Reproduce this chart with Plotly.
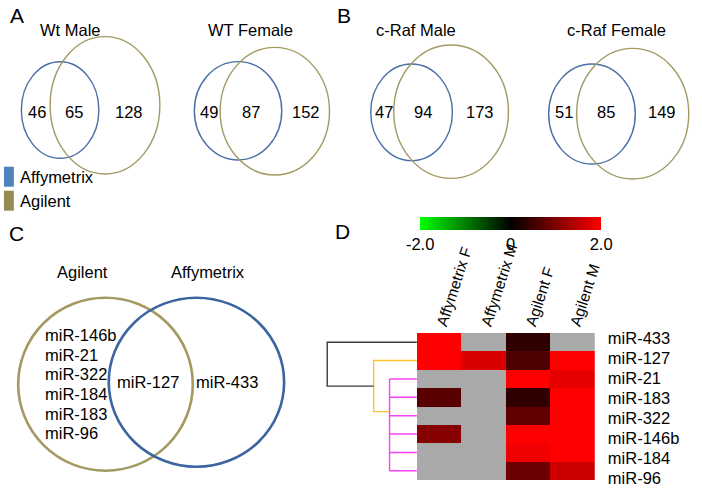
import plotly.graph_objects as go

W, H = 702, 488

# ---------------- DATA ----------------
# Panels A/B: Venn counts (Affymetrix only, overlap, Agilent only)
venn_titles = ["Wt Male", "WT Female", "c-Raf Male", "c-Raf Female"]
affy_only = [46, 49, 47, 51]
overlap = [65, 87, 94, 85]
agilent_only = [128, 152, 173, 149]

legend_labels = ["Affymetrix", "Agilent"]

# Panel C: miRNA membership
c_set_labels = ["Agilent", "Affymetrix"]
c_agilent_only = ["miR-146b", "miR-21", "miR-322", "miR-184", "miR-183", "miR-96"]
c_overlap = ["miR-127"]
c_affy_only = ["miR-433"]

# Panel D: heatmap (None = not detected, grey)
hm_columns = ["Affymetrix F", "Affymetrix M", "Agilent F", "Agilent M"]
hm_rows = ["miR-433", "miR-127", "miR-21", "miR-183", "miR-322", "miR-146b", "miR-184", "miR-96"]
hm_mir433 = [2.0, None, 0.38, None]
hm_mir127 = [2.0, 1.72, 0.62, 2.0]
hm_mir21 = [None, None, 2.0, 1.8]
hm_mir183 = [0.7, None, 0.38, 2.0]
hm_mir322 = [None, None, 0.75, 2.0]
hm_mir146b = [1.05, None, 2.0, 2.0]
hm_mir184 = [None, None, 1.88, 2.0]
hm_mir96 = [None, None, 0.85, 1.6]
hm_values = [hm_mir433, hm_mir127, hm_mir21, hm_mir183, hm_mir322, hm_mir146b, hm_mir184, hm_mir96]

cbar_tickvals = [-2, 0, 2]
cbar_ticktext = ["-2.0", "0", "2.0"]

# Dendrogram (row clustering): merge heights (relative) and attach row positions
dendro_leaf_group = [2, 3, 4, 5, 6, 7]      # comb-joined leaves
dendro_h_group = 0.305
dendro_group_attach = 3.78
dendro_h_mid = 0.482                        # joins row 1 with the group
dendro_h_root = 1.0                         # joins row 0 with the rest

# ---------------- STYLE / LAYOUT ----------------
FONT = "Liberation Sans, Arial, sans-serif"
FS = 16.5
BLUE = "#4a6ea6"
TAN = "#a39a62"
BLUE_SW = "#4f81bd"
TAN_SW = "#948a54"
GREY = "#a9a9a9"

# ellipse geometry per Venn panel in pixel units: (cx, cy, rx, ry)
venn_blue = [(60.8, 110, 39.2, 48.3), (240.8, 110.8, 44.2, 49.2),
             (416.3, 112.3, 41.3, 48.3), (598.8, 114, 43.8, 50)]
venn_tan = [(106.2, 105.3, 55.5, 68.7), (278, 111.2, 55.3, 63.8),
            (456.3, 111.7, 58, 66.7), (640, 113.7, 56.7, 65.3)]
venn_title_x = [71.7, 253.3, 420.7, 623.3]

fig = go.Figure()

# full-figure pixel axis (for Venn panels)
fig.add_trace(go.Scatter(x=[0], y=[0], mode="markers", marker=dict(opacity=0),
                         hoverinfo="skip", showlegend=False, xaxis="x", yaxis="y"))

shapes = []
ann = []

def ellipse(g, color, width):
    cx, cy, rx, ry = g
    return dict(type="circle", xref="x", yref="y", x0=cx - rx, x1=cx + rx,
                y0=cy - ry, y1=cy + ry, line=dict(color=color, width=width))

def text(x, y, s, size=FS, xanchor="center"):
    return dict(x=x, y=y, xref="x", yref="y", text=s, showarrow=False,
                font=dict(family=FONT, size=size, color="#000"),
                xanchor=xanchor, yanchor="middle")

for i in range(4):
    b, t = venn_blue[i], venn_tan[i]
    shapes.append(ellipse(b, BLUE, 1.4))
    shapes.append(ellipse(t, TAN, 1.4))
    bl, br = b[0] - b[2], b[0] + b[2]
    tl, tr = t[0] - t[2], t[0] + t[2]
    ny = 112
    ann.append(text((bl + tl) / 2 + 1.5, ny, str(affy_only[i])))
    ann.append(text((tl + br) / 2, ny, str(overlap[i])))
    ann.append(text((br + tr) / 2, ny, str(agilent_only[i])))
    ann.append(text(venn_title_x[i], 30, venn_titles[i]))

# panel letters
for s, x, y in [("A", 17, 15), ("B", 348, 15), ("C", 17, 233), ("D", 346, 231)]:
    ann.append(text(x, y, s, size=21))

# legend
for k, (lab, col) in enumerate(zip(legend_labels, [BLUE_SW, TAN_SW])):
    y0 = 166.7 + k * 24
    shapes.append(dict(type="rect", xref="x", yref="y", x0=4, x1=14, y0=y0, y1=y0 + 20,
                       fillcolor=col, line=dict(width=0)))
    ann.append(text(18, y0 + 10, lab, xanchor="left"))

# Panel C
shapes.append(ellipse((106.7, 384.2, 88.3, 86.5), TAN, 2.6))
shapes.append(ellipse((198.7, 382.2, 88.7, 84.5), "#3b64a0", 2.6))
ann.append(text(83.3, 272.3, c_set_labels[0]))
ann.append(text(210, 272.3, c_set_labels[1]))
for k, m in enumerate(c_agilent_only):
    ann.append(text(43.3, 335 + k * 19.65, m, xanchor="left"))
ann.append(text(150, 381.7, c_overlap[0]))
ann.append(text(230, 381.7, c_affy_only[0]))

# ---------------- Panel D heatmap ----------------
rows_idx = list(range(len(hm_rows)))
cols_idx = list(range(len(hm_columns)))
grey_z = [[0 if v is None else None for v in r] for r in hm_values]
fig.add_trace(go.Heatmap(z=grey_z, x=cols_idx, y=rows_idx, xaxis="x2", yaxis="y2",
                         colorscale=[[0, GREY], [1, GREY]], showscale=False,
                         hoverinfo="skip"))
fig.add_trace(go.Heatmap(
    z=hm_values, x=cols_idx, y=rows_idx, xaxis="x2", yaxis="y2",
    colorscale=[[0, "#00ff00"], [0.5, "#000000"], [1, "#ff0000"]],
    zmin=-2, zmax=2,
    colorbar=dict(orientation="h", x=(426 + 607) / 2 / W, xanchor="center",
                  y=1 - 217 / H, yanchor="top", len=181, lenmode="pixels",
                  thickness=13, thicknessmode="pixels", xpad=0, ypad=0,
                  outlinewidth=0, tickvals=cbar_tickvals, ticktext=cbar_ticktext,
                  ticks="", tickfont=dict(family=FONT, size=FS, color="#000"))))

# row labels on their own axis (slightly wider spacing than the rows)
fig.add_trace(go.Scatter(x=[1.5] * len(hm_rows), y=rows_idx, xaxis="x2", yaxis="y3",
                         mode="markers", marker=dict(opacity=0), hoverinfo="skip",
                         showlegend=False))

# dendrogram
DK, YEL, MAG = "#3c3c3c", "#ffc12e", "#f542f5"
def seg(xs, ys, color):
    fig.add_trace(go.Scatter(x=xs, y=ys, mode="lines", xaxis="x3", yaxis="y2",
                             line=dict(color=color, width=1.4), hoverinfo="skip",
                             showlegend=False))
for r in dendro_leaf_group:
    seg([0, dendro_h_group], [r, r], MAG)
seg([dendro_h_group, dendro_h_group], [min(dendro_leaf_group), max(dendro_leaf_group)], MAG)
mid_attach = (1 + dendro_group_attach) / 2
seg([0, dendro_h_mid, dendro_h_mid, dendro_h_group],
    [1, 1, dendro_group_attach, dendro_group_attach], YEL)
seg([0, dendro_h_root, dendro_h_root, dendro_h_mid],
    [0, 0, mid_attach, mid_attach], DK)

hm_left, hm_right, hm_top, hm_bot = 421.7, 601.7, 333, 480
pad = 0.03
dendro_left_px = 331 - pad * (hm_left - 331)

fig.update_layout(
    width=W, height=H, margin=dict(l=0, r=0, t=0, b=0),
    paper_bgcolor="white", plot_bgcolor="rgba(0,0,0,0)",
    showlegend=False, shapes=shapes, annotations=ann,
    xaxis=dict(domain=[0, 1], range=[0, W], visible=False, fixedrange=True),
    yaxis=dict(domain=[0, 1], range=[H, 0], visible=False, fixedrange=True),
    xaxis2=dict(domain=[hm_left / W, hm_right / W], range=[-0.5, 3.5], anchor="y2",
                side="top", tickvals=cols_idx, ticktext=hm_columns, tickangle=-72,
                ticks="", showgrid=False, zeroline=False, showline=False,
                ticklabelstandoff=-4,
                tickfont=dict(family=FONT, size=15.5, color="#000")),
    yaxis2=dict(domain=[1 - hm_bot / H, 1 - hm_top / H], range=[7.5, -0.5],
                anchor="x2", visible=False),
    yaxis3=dict(domain=[0, 1 - 328.3 / H], range=[7.5, -0.5], anchor="x2",
                side="right", tickvals=rows_idx, ticktext=hm_rows, ticks="",
                showgrid=False, zeroline=False, showline=False, ticklabelstandoff=12,
                tickfont=dict(family=FONT, size=FS, color="#000")),
    xaxis3=dict(domain=[dendro_left_px / W, hm_left / W], range=[1 + pad, 0],
                anchor="y2", visible=False),
)

fig.write_html("out.html", post_script="document.body.style.margin='0';",
               config={"displayModeBar": False})
